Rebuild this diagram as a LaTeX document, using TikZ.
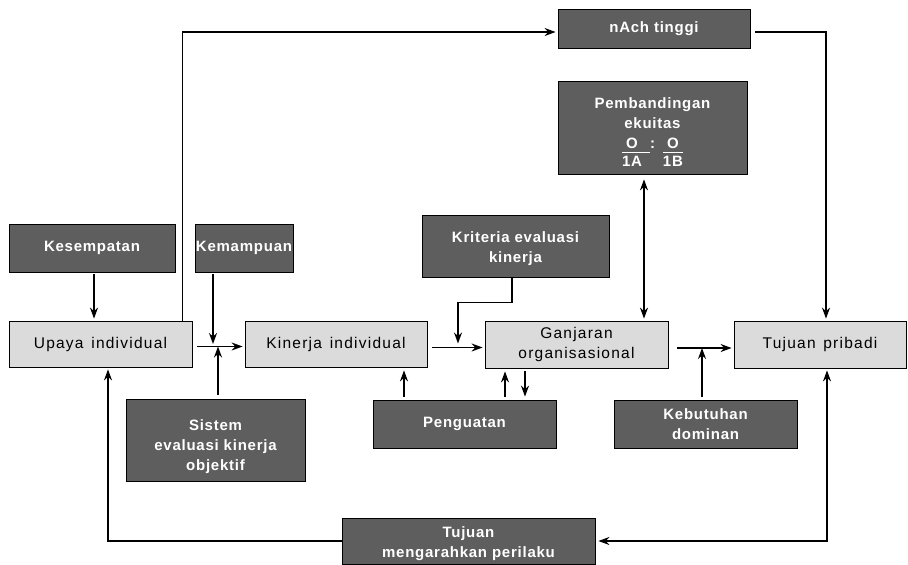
\documentclass[tikz,border=0pt]{standalone}
\usepackage{fontspec}
\setmainfont{Liberation Sans}[LetterSpace=5]
\newfontfamily\lightfont{Liberation Sans}[LetterSpace=8,WordSpace=1.4]
\usetikzlibrary{arrows.meta,calc}
\definecolor{darkbox}{gray}{0.37}
\definecolor{lightbox}{gray}{0.86}
\newcommand{\topgap}[1]{\rule{0pt}{#1}}
\begin{document}
\begin{tikzpicture}[x=1pt,y=-1pt,
  base/.style={draw=black, line width=0.8pt, align=center, inner sep=1pt},
  dark/.style={base, fill=darkbox, text=white, font=\bfseries\fontsize{15}{20}\selectfont},
  light/.style={base, fill=lightbox, text=black, font=\lightfont\fontsize{15.5}{19.5}\selectfont},
  arr/.style={line width=1.5pt, -{Stealth[length=11pt,width=8pt]}},
  darr/.style={line width=1.5pt, {Stealth[length=11pt,width=8pt]}-{Stealth[length=11pt,width=8pt]}}]
\useasboundingbox (0,0) rectangle (908,565);
\fill[white] (0,0) rectangle (908,565);

% boxes
\node[dark, minimum width=166pt, minimum height=48pt] (kes) at (92,248) {Kesempatan};
\node[dark, minimum width=98pt, minimum height=48pt] (kem) at (244,248) {Kemampuan};
\node[light, minimum width=183pt, minimum height=46pt] (upaya) at (100.5,344) {Upaya individual};
\node[light, minimum width=182pt, minimum height=46pt] (kin) at (336,344) {Kinerja individual};
\node[dark, minimum width=179pt, minimum height=82pt] (sis) at (215.5,440) {\topgap{25pt}Sistem\\evaluasi kinerja\\objektif};
\node[dark, minimum width=183pt, minimum height=48pt] (peng) at (464.5,424) {Penguatan};
\node[dark, minimum width=187pt, minimum height=62pt] (krit) at (515.5,246) {\topgap{17pt}Kriteria evaluasi\\kinerja};
\node[light, minimum width=183pt, minimum height=47pt] (ganj) at (576.5,344.5) {Ganjaran\\organisasional};
\node[dark, minimum width=192pt, minimum height=39pt] (nach) at (654,28.5) {nAch tinggi};
\node[dark, minimum width=189pt, minimum height=93pt] (pemb) at (652.5,127.5)
  {\topgap{25pt}Pembandingan\\ekuitas\\%
   \begin{tabular}[t]{@{}c@{\hspace{8pt}}c@{\hspace{8pt}}c@{}}O & : & O\\[-2pt]\cline{1-1}\cline{3-3}1A & & 1B\end{tabular}};
\node[light, minimum width=172pt, minimum height=47pt] (tujp) at (820,344.5) {Tujuan pribadi};
\node[dark, minimum width=183pt, minimum height=48pt] (kebut) at (705.5,424) {Kebutuhan\\dominan};
\node[dark, minimum width=253pt, minimum height=46pt] (tujm) at (468.5,541) {\topgap{17pt}Tujuan\\mengarahkan perilaku};

% junctions
\coordinate (j1) at (213,346.5);
\coordinate (j2) at (458,347.5);
\coordinate (j3) at (702,348);

% connectors
\draw[arr, shorten <=2pt, shorten >=2pt] ([xshift=2pt]kes.south) -- ([xshift=2pt]kes.south |- upaya.north);
\draw[arr, shorten <=5pt, shorten >=2pt] ([yshift=-2.5pt]upaya.east) -- ([yshift=-2.5pt]upaya.east -| kin.west);
\draw[arr, shorten <=2pt, shorten >=2.5pt] ([xshift=-31pt]kem.south) -- ([xshift=-31pt]kem.south |- j1);
\draw[arr, shorten <=4pt] ([xshift=2.5pt]sis.north) -- ([xshift=2.5pt]sis.north |- j1);
\draw[arr, shorten >=2pt] ([xshift=-10pt]upaya.north east) |- ([yshift=-3.5pt]nach.west);
\draw[arr, shorten <=5pt, shorten >=2pt] ([yshift=-3.5pt]kin.east) -- ([yshift=-3.5pt]kin.east -| ganj.west);
\draw[arr, shorten >=4pt] ([xshift=-3.5pt]krit.south) -- ++(0,25) -| (j2);
\draw[arr, shorten <=3pt, shorten >=3pt] ([xshift=-60.5pt]peng.north) -- ([xshift=-60.5pt]peng.north |- kin.south);
\draw[arr, shorten <=3pt, shorten >=3pt] ([xshift=40.5pt]peng.north) -- ([xshift=40.5pt]peng.north |- ganj.south);
\draw[arr, shorten <=3pt, shorten >=3pt] ([xshift=-51.5pt]ganj.south) -- ([xshift=-51.5pt]ganj.south |- peng.north);
\draw[darr, shorten <=5pt, shorten >=2pt] ([xshift=-8.5pt]pemb.south) -- ([xshift=-8.5pt]pemb.south |- ganj.north);
\draw[arr, shorten <=9pt, shorten >=2pt] ([yshift=-3.5pt]ganj.east) -- ([yshift=-3.5pt]ganj.east -| tujp.west);
\draw[arr, shorten <=3pt] ([xshift=-3.5pt]kebut.north) -- ([xshift=-3.5pt]kebut.north |- j3);
\draw[arr, shorten <=5pt, shorten >=2pt] ([yshift=-3.5pt]nach.east) -| ([xshift=6pt]tujp.north);
\draw[arr, shorten >=2pt] (tujm.west) -| ([xshift=7.5pt]upaya.south);
\draw[darr, shorten <=3pt, shorten >=2pt] (tujm.east) -| ([xshift=7pt]tujp.south);
\end{tikzpicture}
\end{document}
